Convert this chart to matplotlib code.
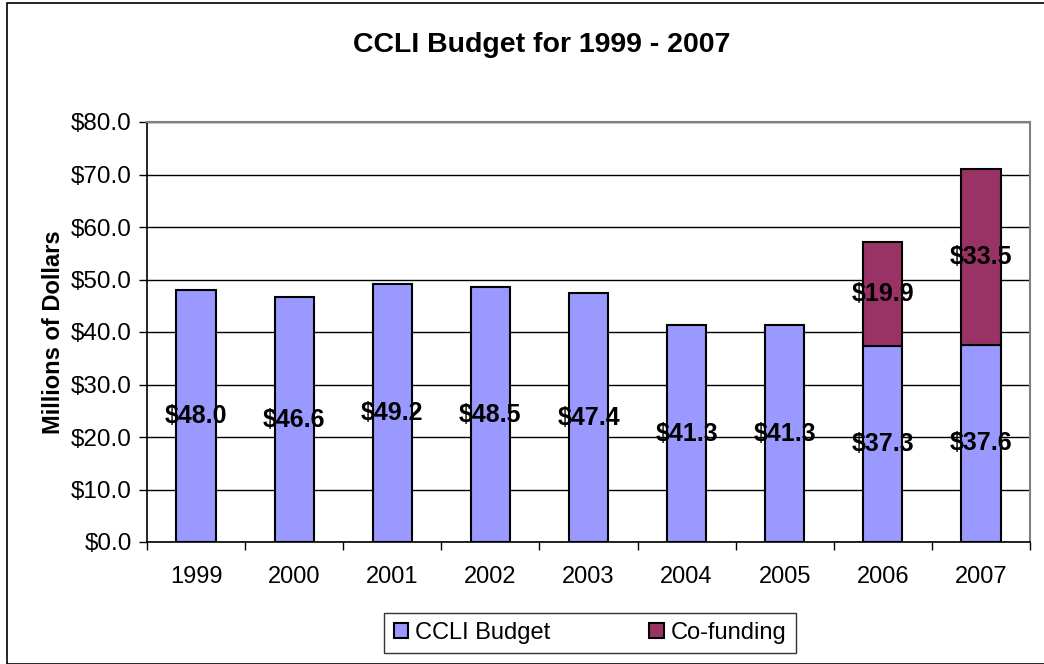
import numpy as np
import matplotlib.pyplot as plt
from matplotlib.patches import Rectangle, Patch

# Datos
years = ['1999', '2000', '2001', '2002', '2003', '2004', '2005', '2006', '2007']
ccli = [48.0, 46.6, 49.2, 48.5, 47.4, 41.3, 41.3, 37.3, 37.6]
cofunding = [0, 0, 0, 0, 0, 0, 0, 19.9, 33.5]

blue = '#9999FF'
maroon = '#993366'

plt.rcParams['font.family'] = ['Liberation Sans', 'DejaVu Sans']

fig = plt.figure(figsize=(10.44, 6.64), dpi=100)
ax = fig.add_axes([147 / 1044, 1 - 542 / 664, (1030 - 147) / 1044, (542 - 122) / 664])

# borde exterior de la figura
fig.patches.append(Rectangle((7 / 1044, 0.0), 1 - 7 / 1044 + 0.01, 1 - 3 / 664,
                             transform=fig.transFigure, fill=False,
                             edgecolor='black', linewidth=1.2))

x = np.arange(len(years))
w = 0.4
b1 = ax.bar(x, ccli, width=w, color=blue, edgecolor='black', linewidth=1.5, zorder=3)
b2 = ax.bar(x, cofunding, width=w, bottom=ccli, color=maroon, edgecolor='black',
            linewidth=1.5, zorder=3)
# quitar las barras vacías de co-funding
for rect, v in zip(b2, cofunding):
    if v == 0:
        rect.set_visible(False)

# etiquetas de valor en el centro de cada segmento
for i in range(len(years)):
    ax.text(x[i], ccli[i] / 2, '$%.1f' % ccli[i], ha='center', va='center',
            fontsize=18, fontweight='bold', zorder=4)
    if cofunding[i] > 0:
        ax.text(x[i], ccli[i] + cofunding[i] / 2, '$%.1f' % cofunding[i],
                ha='center', va='center', fontsize=18, fontweight='bold', zorder=4)

ax.set_xlim(-0.5, len(years) - 0.5)
ax.set_ylim(0, 80)
ax.set_yticks(np.arange(0, 81, 10))
ax.set_yticklabels(['$%.1f' % v for v in np.arange(0, 81, 10)], fontsize=17.5)
ax.set_xticks(x)
ax.set_xticklabels(years, fontsize=17)
ax.tick_params(axis='x', which='major', length=0, pad=17)
ax.set_xticks(np.arange(-0.5, len(years), 1), minor=True)
ax.tick_params(axis='x', which='minor', length=6, width=1, direction='out')
ax.tick_params(axis='y', length=6, width=1, direction='out', pad=5)

ax.yaxis.grid(True, color='black', linewidth=1, zorder=0)
ax.set_axisbelow(True)
for s in ['top', 'right']:
    ax.spines[s].set_color('#808080')
    ax.spines[s].set_linewidth(1.5)
ax.spines['left'].set_linewidth(1.2)
ax.spines['bottom'].set_linewidth(1.2)

ax.set_ylabel('Millions of Dollars', fontsize=17, fontweight='bold', labelpad=4)
fig.text(542 / 1044, 1 - 45 / 664, 'CCLI Budget for 1999 - 2007', ha='center', va='center',
         fontsize=20.5, fontweight='bold')

handles = [Patch(facecolor=blue, edgecolor='black', linewidth=1.5),
           Patch(facecolor=maroon, edgecolor='black', linewidth=1.5)]
leg = fig.legend(handles=handles, labels=['CCLI Budget', 'Co-funding'],
                 loc='center', bbox_to_anchor=(590 / 1044, 1 - 633 / 664),
                 ncol=2, fontsize=17, frameon=True, fancybox=False,
                 edgecolor='black', handlelength=0.6, handleheight=0.6,
                 handletextpad=0.3, columnspacing=4.2, borderpad=0.4,
                 borderaxespad=0.0)
leg.get_frame().set_linewidth(1)

fig.savefig('out.png', dpi=100)
